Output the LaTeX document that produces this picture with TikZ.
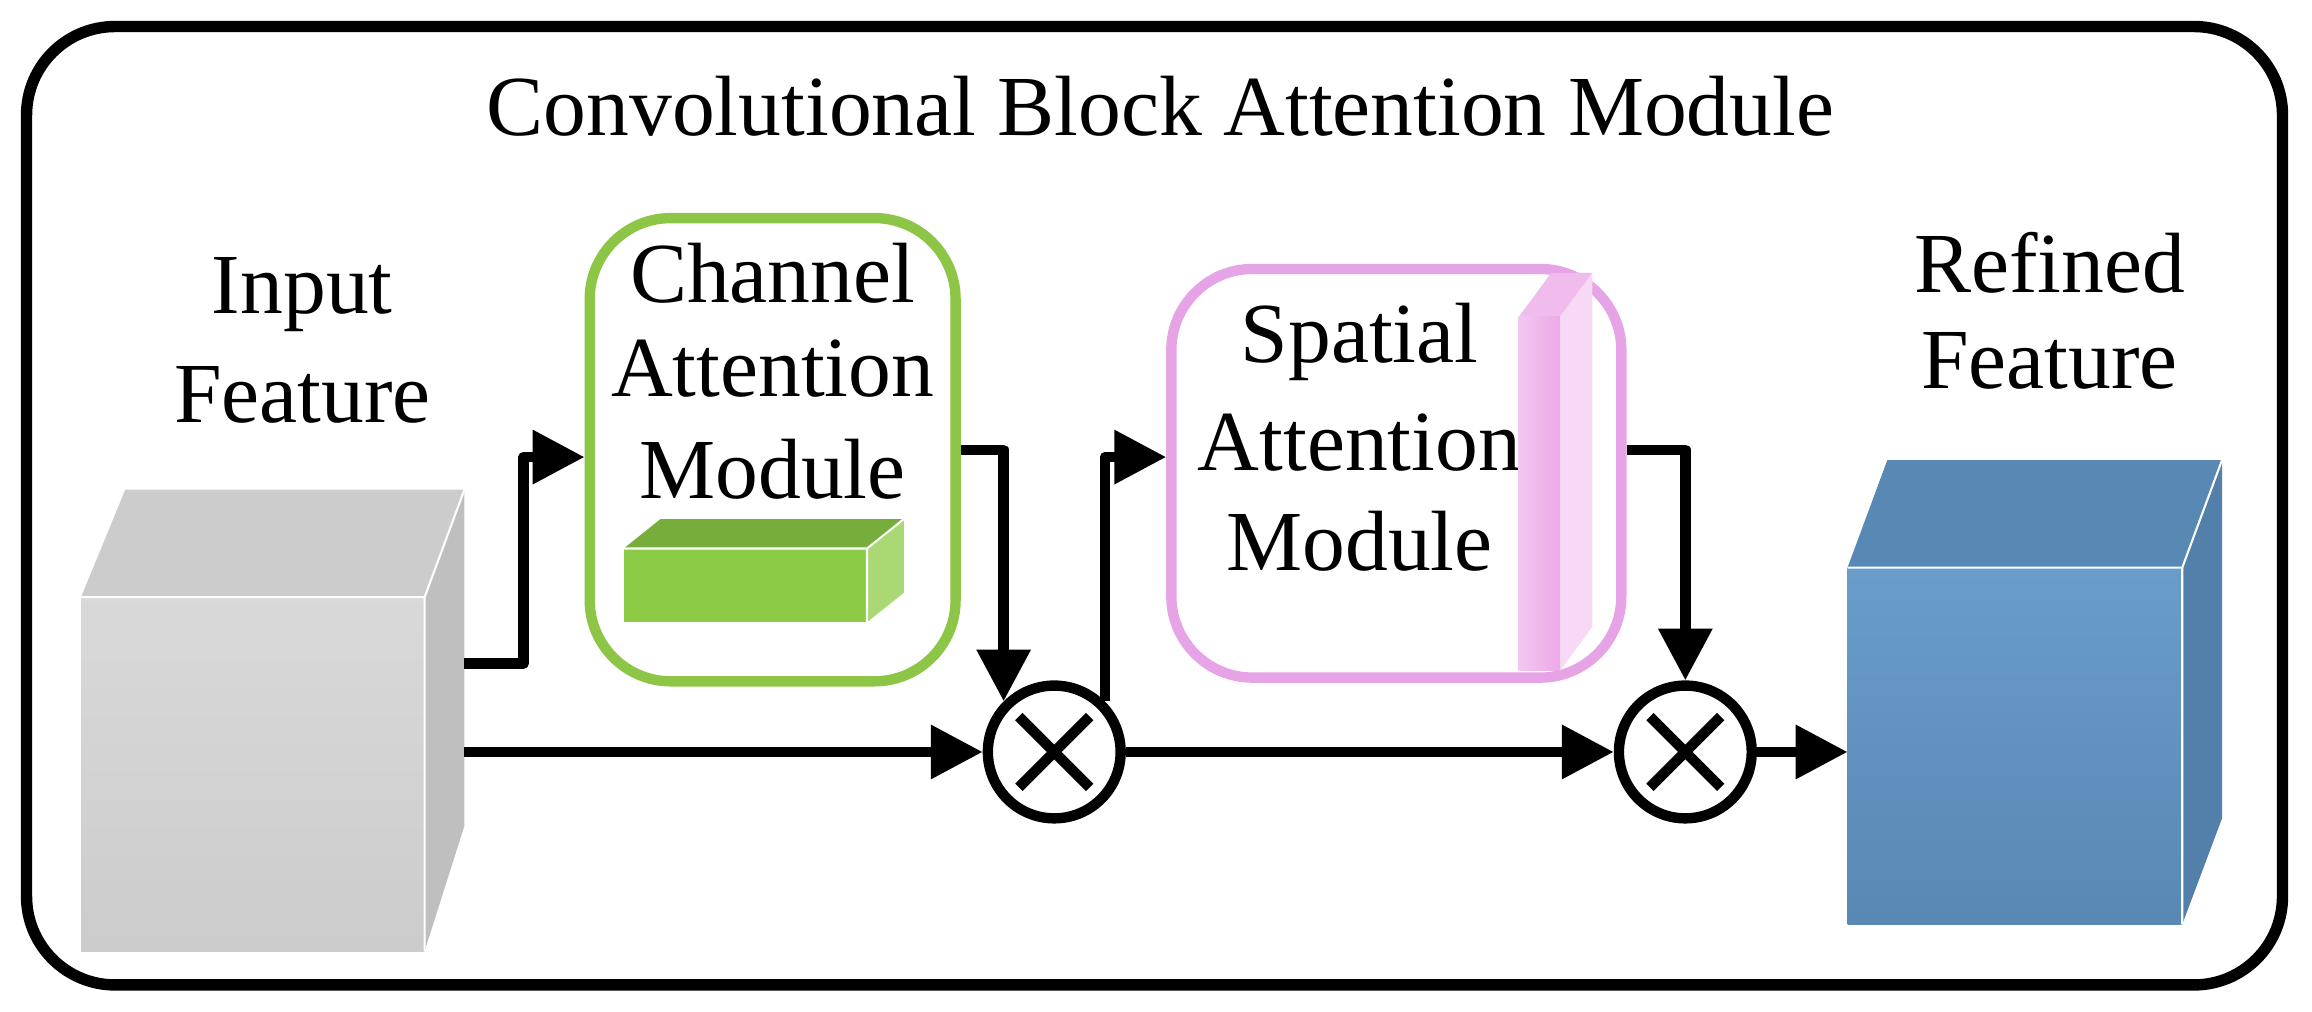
\documentclass[tikz,border=0pt]{standalone}
\usepackage{fontspec}
\setmainfont{Liberation Serif}
\usetikzlibrary{positioning,calc,arrows.meta}
\definecolor{camgreen}{HTML}{8DC646}
\definecolor{cubegreen}{HTML}{8CCB45}
\definecolor{sampink}{HTML}{E6A3E6}
\definecolor{slabpink}{HTML}{EAA0E6}
\definecolor{refblue}{HTML}{6297C8}
\begin{document}
\begin{tikzpicture}[x=0.01cm,y=-0.01cm]
		\tikzset{
			lbl/.style={font=\fontsize{16.5}{20}\selectfont,inner sep=0},
			flow/.style={-{Triangle[length=10pt,width=10pt]},line width=2pt,black,line join=round},
			modbox/.style={line width=2pt,rounded corners=0.55cm},
			mult/.style={draw,line width=2pt,circle,minimum size=0.9cm,inner sep=0},
		}
		\useasboundingbox (0,0) rectangle (1568,686);
		\draw[line width=2.2pt,rounded corners=0.6cm] (18,18) rectangle (1548,668);
		\node[lbl] (title) at (787,72) {Convolutional Block Attention Module};
		% input cube
		\fill[gray!40] (55,405) -- (85,332) -- (315,332) -- (288,405) -- cycle;
		\fill[gray!50] (288,405) -- (315,332) -- (315,560) -- (288,645) -- cycle;
		\shade[top color=gray!30,bottom color=gray!40] (55,405) rectangle (288,645);
		\draw[white,thin] (55,405) -- (288,405) -- (288,645) (288,405) -- (315,332);
		\coordinate (inA) at (315,450);
		\coordinate (inB) at (315,510);
		\node[lbl] (in1) at (205,200) {Input};
		\node[lbl] (in2) at (205,268) {Feature};
		% channel module
		\node[modbox,draw=camgreen,minimum width=2.48cm,minimum height=3.14cm] (cam) at (524,305) {};
		\node[lbl] (c1) at (524,185) {Channel};
		\node[lbl] (c2) at (524,250) {Attention};
		\node[lbl] (c3) at (524,318) {Module};
		\fill[cubegreen!85!black] (423,372) -- (448,352) -- (613,352) -- (588,372) -- cycle;
		\fill[cubegreen!75!white] (588,372) -- (613,352) -- (613,402) -- (588,422) -- cycle;
		\fill[cubegreen] (423,372) rectangle (588,422);
		\draw[white,thin] (423,372) -- (588,372) -- (588,422) (588,372) -- (613,352);
		% spatial module
		\node[modbox,draw=sampink,minimum width=3.05cm,minimum height=2.77cm] (sam) at (947,321) {};
		\node[lbl] (s1) at (922,232) {Spatial};
		\node[lbl] (s2) at (922,300) {Attention};
		\node[lbl] (s3) at (922,367) {Module};
		\fill[slabpink!70] (1030,215) -- (1052,185) -- (1080,185) -- (1058,215) -- cycle;
		\fill[slabpink!40] (1058,215) -- (1080,185) -- (1080,425) -- (1058,455) -- cycle;
		\shade[left color=slabpink!60,right color=slabpink!90] (1030,215) rectangle (1058,455);
		% multipliers
		\node[mult] (m1) at (715,510) {};
		\draw[line width=2pt] ($(m1)+(-24,-24)$) -- ($(m1)+(24,24)$) ($(m1)+(-24,24)$) -- ($(m1)+(24,-24)$);
		\node[mult] (m2) at (1143,510) {};
		\draw[line width=2pt] ($(m2)+(-24,-24)$) -- ($(m2)+(24,24)$) ($(m2)+(-24,24)$) -- ($(m2)+(24,-24)$);
		% refined cube
		\fill[refblue!90!black] (1253,385) -- (1280,312) -- (1507,312) -- (1480,385) -- cycle;
		\fill[refblue!85!black] (1480,385) -- (1507,312) -- (1507,555) -- (1480,627) -- cycle;
		\shade[top color=refblue!95!white,bottom color=refblue!90!black] (1253,385) rectangle (1480,627);
		\draw[white,thin] (1253,385) -- (1480,385) -- (1480,627) (1480,385) -- (1507,312);
		\coordinate (outL) at (1253,510);
		\node[lbl] (r1) at (1390,178) {Refined};
		\node[lbl] (r2) at (1390,245) {Feature};
		% connectors
		\draw[flow] (inA) -- ++(40,0) |- (cam.west |- 0,310);
		\draw[flow] (cam.east |- 0,305) -| (m1.north west);
		\draw[flow] (inB) -- (m1);
		\draw[flow] (m1.north east) |- (sam.west |- 0,310);
		\draw[flow] (sam.east |- 0,305) -| (m2);
		\draw[flow] (m1) -- (m2);
		\draw[flow] (m2) -- (outL);
\end{tikzpicture}
\end{document}
